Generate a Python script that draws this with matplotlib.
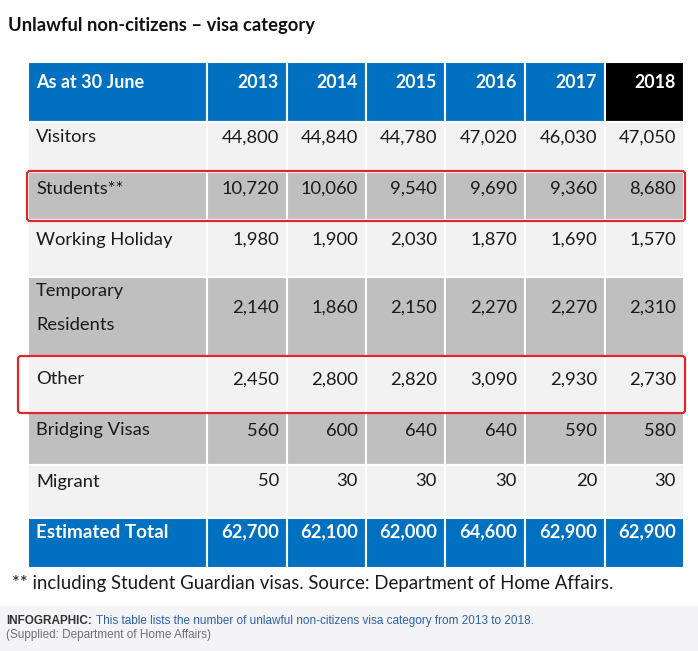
import matplotlib.pyplot as plt
from matplotlib.patches import Rectangle, FancyBboxPatch

# Data
years = ["2013", "2014", "2015", "2016", "2017", "2018"]
categories = ["Visitors", "Students**", "Working Holiday", "Temporary\nResidents",
              "Other", "Bridging Visas", "Migrant"]
visitors = [44800, 44840, 44780, 47020, 46030, 47050]
students = [10720, 10060, 9540, 9690, 9360, 8680]
working_holiday = [1980, 1900, 2030, 1870, 1690, 1570]
temporary_residents = [2140, 1860, 2150, 2270, 2270, 2310]
other = [2450, 2800, 2820, 3090, 2930, 2730]
bridging_visas = [560, 600, 640, 640, 590, 580]
migrant = [50, 30, 30, 30, 20, 30]
estimated_total = [62700, 62100, 62000, 64600, 62900, 62900]
highlighted = ["Students**", "Other"]

values = [visitors, students, working_holiday, temporary_residents,
          other, bridging_visas, migrant]

# Layout (pixels)
W, H = 698, 651
col_edges = [28, 207, 287, 366, 445, 525, 605, 684]
header_top, header_bot = 62, 122
row_edges = [122, 172, 220, 277, 357, 412, 465, 518]
total_bot = 568
text_off = [15.5, 16.5, 19.5, 31, 22.5, 18.5, 16.5]

BLUE = "#0070c0"
LIGHT = "#f2f2f2"
GRAY = "#bfbfbf"
FONT = "Lato"
CAP_FONT = ["Liberation Sans", "DejaVu Sans"]

fig = plt.figure(figsize=(W / 100, H / 100), dpi=100)
ax = fig.add_axes([0, 0, 1, 1])
ax.set_xlim(0, W)
ax.set_ylim(H, 0)
ax.axis("off")

# caption band
ax.add_patch(Rectangle((0, 606), W, H - 606, color="#f4f4f6", zorder=0))

ax.text(8, 25, "Unlawful non-citizens \u2013 visa category", fontsize=13.2,
        fontweight="bold", family=FONT, va="center", ha="left", color="#111111")

def cell(x0, x1, y0, y1, color):
    ax.add_patch(Rectangle((x0, y0), x1 - x0, y1 - y0, facecolor=color,
                           edgecolor="white", linewidth=1.5, zorder=1))

# header
for i in range(7):
    color = "black" if i == 6 else BLUE
    cell(col_edges[i], col_edges[i + 1], header_top, header_bot, color)
ax.text(col_edges[0] + 8, header_top + 20, "As at 30 June", fontsize=13,
        fontweight="bold", family=FONT, color="white", va="center", ha="left", zorder=3)
for j, yr in enumerate(years):
    ax.text(col_edges[j + 2] - 8, header_top + 20, yr, fontsize=12.8, fontweight="bold",
            family=FONT, color="white", va="center", ha="right", zorder=3)

# body rows
for r, (cat, vals) in enumerate(zip(categories, values)):
    y0 = row_edges[r]
    y1 = row_edges[r + 1]
    color = LIGHT if r % 2 == 0 else GRAY
    for i in range(7):
        cell(col_edges[i], col_edges[i + 1], y0, y1, color)
    ty = y0 + text_off[r]
    ax.text(col_edges[0] + 8, ty, cat, fontsize=13.2, family=FONT, color="#1a1a1a",
            va="center", ha="left", linespacing=2.45, zorder=3)
    for j, v in enumerate(vals):
        ax.text(col_edges[j + 2] - 8, ty, f"{v:,}", fontsize=13.2, family=FONT,
                color="#1a1a1a", va="center", ha="right", zorder=3)
    if cat in highlighted:
        left = 27 if r == 1 else 18
        ax.add_patch(FancyBboxPatch((left, y0 - 1), 685 - left, y1 - y0 + 2,
                                    boxstyle="round,pad=0,rounding_size=3",
                                    facecolor="none", edgecolor="#e0262a",
                                    linewidth=1.6, zorder=4))

# total row
y0, y1 = row_edges[-1], total_bot
for i in range(7):
    cell(col_edges[i], col_edges[i + 1], y0, y1, BLUE)
ax.text(col_edges[0] + 8, y0 + 14, "Estimated Total", fontsize=13.6, fontweight="bold",
        family=FONT, color="white", va="center", ha="left", zorder=3)
for j, v in enumerate(estimated_total):
    ax.text(col_edges[j + 2] - 8, y0 + 14, f"{v:,}", fontsize=13.2, fontweight="bold",
            family=FONT, color="white", va="center", ha="right", zorder=3)

ax.text(12, 583, "** including Student Guardian visas. Source: Department of Home Affairs.",
        fontsize=13.4, family=FONT, color="#1a1a1a", va="center", ha="left")

lbl = ax.text(6, 621, "INFOGRAPHIC:", fontsize=8.5, fontweight="bold", family=CAP_FONT,
              color="#333333", va="center", ha="left")
ax.annotate("This table lists the number of unlawful non-citizens visa category from 2013 to 2018.",
            xy=(1, 0.5), xycoords=lbl, xytext=(3, 0), textcoords="offset points",
            fontsize=8.5, family=CAP_FONT, color="#2d62a8", va="center", ha="left")
ax.text(6, 635, "(Supplied: Department of Home Affairs)", fontsize=8.5,
        family=CAP_FONT, color="#707070", va="center", ha="left")

fig.savefig("out.png", dpi=100, facecolor="white")
